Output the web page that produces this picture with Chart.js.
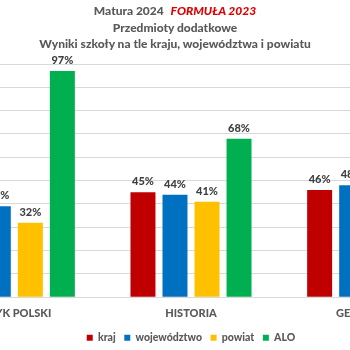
<!DOCTYPE html>
<html>
<head>
<meta charset="utf-8" />
<title>Matura 2024 - przedmioty dodatkowe</title>
<script src="https://cdn.jsdelivr.net/npm/chart.js@4.4.0/dist/chart.umd.min.js"></script>
<style>
    html, body { margin: 0; padding: 0; background: #fff; overflow: hidden; }
    #page { position: relative; width: 350px; height: 350px; overflow: hidden; }
    #titles {
        position: absolute; left: 0; top: 3px; width: 350px; text-align: center;
        font-family: Lato, "Open Sans", sans-serif; font-weight: 900; font-size: 12px;
        color: #595959; line-height: 16.5px; z-index: 2;
    }
    #titles .red { color: #e00000; font-style: italic; margin-left: 4px; }
    #wrap { position: absolute; left: -110px; top: 0; width: 570px; height: 350px; }
</style>
</head>
<body>
<div id="page">
    <div id="titles">
        <div>Matura 2024 <span class="red">FORMUŁA 2023</span></div>
        <div>Przedmioty dodatkowe</div>
        <div>Wyniki szkoły na tle kraju, województwa i powiatu</div>
    </div>
    <div id="wrap"><canvas id="chart"></canvas></div>
</div>

<script>
// values in percent, null = bar outside the visible picture
var subjects = ['JĘZYK POLSKI', 'HISTORIA', 'GEOGRAFIA'];
var kraj = [null, 45, 46];
var wojewodztwo = [39, 44, 48];
var powiat = [32, 41, null];
var alo = [97, 68, null];

var seriesNames = ['kraj', 'województwo', 'powiat', 'ALO'];
var seriesColors = ['#c00000', '#0070c0', '#ffc000', '#00b050'];
var seriesData = [kraj, wojewodztwo, powiat, alo];

var fontFamily = 'Lato, "Open Sans", sans-serif';

var datasets = [];
for (var i = 0; i < seriesNames.length; i++) {
    datasets.push({
        label: seriesNames[i],
        data: seriesData[i],
        backgroundColor: seriesColors[i],
        borderWidth: 0,
        categoryPercentage: 0.725,
        barPercentage: 0.78
    });
}

// percentage labels above the bars
var valueLabels = {
    id: 'valueLabels',
    afterDatasetsDraw: function (chart) {
        var ctx = chart.ctx;
        ctx.save();
        ctx.font = '900 11px ' + fontFamily;
        ctx.fillStyle = '#404040';
        ctx.textAlign = 'center';
        ctx.textBaseline = 'bottom';
        chart.data.datasets.forEach(function (ds, di) {
            chart.getDatasetMeta(di).data.forEach(function (bar, j) {
                if (ds.data[j] == null) return;
                ctx.fillText(ds.data[j] + '%', bar.x, bar.y - 5);
            });
        });
        ctx.restore();
    }
};

var ctx = document.getElementById('chart').getContext('2d');
new Chart(ctx, {
    type: 'bar',
    data: { labels: subjects, datasets: datasets },
    plugins: [valueLabels],
    options: {
        responsive: true,
        maintainAspectRatio: false,
        animation: false,
        layout: { padding: { top: 64, left: 36, right: 4, bottom: -3 } },
        plugins: {
            title: { display: false },
            tooltip: { enabled: false },
            legend: {
                position: 'bottom',
                labels: {
                    boxWidth: 6, boxHeight: 6, padding: 2,
                    color: '#595959',
                    font: { family: fontFamily, size: 10.5, weight: '900' },
                    // wider gap between items without making the legend taller
                    generateLabels: function (chart) {
                        var items = Chart.defaults.plugins.legend.labels.generateLabels(chart);
                        for (var k = 0; k < items.length - 1; k++) {
                            items[k].text = items[k].text + '\u2002\u2009';
                        }
                        return items;
                    }
                }
            }
        },
        scales: {
            x: {
                grid: { display: false, drawTicks: false },
                border: { color: '#d9d9d9' },
                ticks: {
                    color: '#595959', padding: 10,
                    font: { family: fontFamily, size: 11, weight: '900' }
                }
            },
            y: {
                min: 0, max: 100,
                ticks: { display: false, stepSize: 10 },
                border: { display: false },
                grid: { color: '#d9d9d9', drawTicks: false }
            }
        }
    }
});
</script>
</body>
</html>
